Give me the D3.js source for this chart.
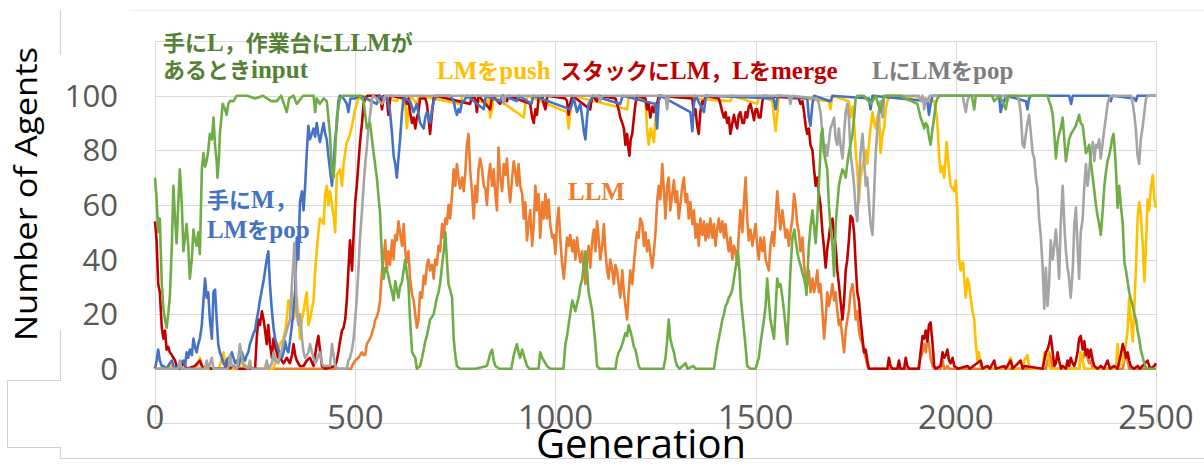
<!DOCTYPE html>
<html><head><meta charset="utf-8">
<script src="https://cdn.jsdelivr.net/npm/d3@7"></script>
<style>body{margin:0;background:#fff;} svg{display:block;}</style>
</head><body><svg id="c" width="1204" height="466"></svg>
<script>
const xTicks = [0, 500, 1000, 1500, 2000, 2500];
const yTicks = [0, 20, 40, 60, 80, 100];

// 手にL，作業台にLLMがあるときinput  (green)
const seriesInput = [[0,70],[4,62],[8,50],[12,55],[17,31],[21,22],[25,18],[29,15],[33,20],[37,26],[42,45],[46,67],[50,55],[54,46],[58,60],[62,73],[67,60],[71,43],[75,48],[79,53],[83,45],[87,33],[92,40],[96,51],[100,47],[104,45],[108,50],[112,42],[117,73],[121,79],[125,74],[129,76],[133,80],[137,86],[142,84],[146,92],[150,82],[154,76],[156,70],[160,78],[162,86],[166,92],[169,97],[175,95],[179,93],[183,97],[187,98],[196,98],[204,100],[212,100],[230,100],[250,99],[270,100],[290,98],[304,98],[315,100],[329,94],[335,99],[346,100],[354,97],[370,100],[396,100],[400,94],[404,99],[412,97],[421,99],[429,98],[437,86],[441,73],[446,70],[450,79],[454,92],[462,99],[470,100],[490,100],[512,100],[521,98],[529,88],[537,90],[546,79],[554,70],[562,57],[567,40],[571,33],[575,37],[579,36],[583,34],[587,31],[592,28],[596,25],[600,32],[604,29],[608,26],[612,30],[617,32],[621,36],[625,40],[629,35],[633,31],[637,18],[642,6],[646,5],[650,4],[654,0],[662,1],[667,4],[671,7],[675,10],[679,12],[683,15],[687,18],[692,19],[696,20],[700,23],[704,26],[708,28],[712,31],[717,38],[721,43],[725,50],[729,40],[733,31],[737,29],[742,26],[746,11],[750,5],[754,1],[762,0],[800,0],[829,1],[838,6],[842,7],[846,3],[850,1],[860,0],[890,0],[896,5],[900,7],[904,9],[908,6],[912,4],[917,7],[921,5],[925,3],[929,1],[935,0],[958,0],[962,6],[967,4],[971,3],[975,2],[979,1],[987,0],[1020,0],[1025,9],[1029,12],[1033,16],[1037,20],[1042,25],[1046,23],[1050,21],[1054,24],[1058,26],[1062,30],[1067,33],[1071,38],[1075,43],[1079,36],[1083,28],[1087,25],[1092,21],[1096,15],[1100,9],[1104,1],[1110,0],[1150,0],[1154,4],[1158,6],[1162,7],[1167,9],[1171,11],[1175,13],[1179,12],[1183,16],[1187,14],[1192,11],[1196,8],[1200,7],[1204,4],[1208,1],[1212,0],[1270,0],[1275,4],[1279,10],[1283,18],[1287,11],[1292,8],[1296,6],[1300,3],[1304,1],[1310,0],[1325,2],[1330,0],[1345,1],[1350,0],[1396,0],[1400,4],[1404,8],[1408,11],[1412,14],[1417,18],[1421,20],[1425,23],[1429,24],[1433,26],[1437,27],[1442,29],[1446,33],[1450,37],[1454,40],[1456,43],[1460,35],[1463,26],[1467,20],[1471,14],[1475,8],[1479,1],[1487,0],[1500,0],[1504,2],[1508,4],[1512,9],[1517,14],[1521,18],[1525,23],[1529,33],[1533,25],[1537,18],[1542,14],[1546,11],[1550,22],[1554,33],[1558,30],[1562,31],[1567,26],[1571,21],[1575,15],[1579,9],[1583,22],[1587,36],[1592,48],[1597,51],[1600,47],[1604,43],[1608,40],[1612,38],[1617,35],[1621,33],[1625,30],[1627,27],[1633,45],[1637,52],[1642,58],[1646,52],[1650,46],[1654,55],[1658,67],[1662,80],[1664,86],[1667,88],[1671,79],[1675,76],[1679,73],[1683,60],[1687,52],[1692,45],[1696,34],[1700,53],[1704,60],[1708,67],[1712,70],[1717,73],[1721,72],[1725,70],[1729,75],[1733,79],[1737,82],[1742,86],[1746,92],[1750,99],[1754,100],[1770,100],[1788,97],[1800,100],[1812,94],[1820,100],[1860,100],[1904,97],[1912,92],[1917,90],[1921,88],[1925,90],[1929,89],[1933,85],[1937,82],[1942,88],[1946,92],[1950,97],[1954,99],[1960,100],[2040,100],[2046,95],[2050,100],[2090,100],[2096,98],[2110,100],[2125,95],[2130,100],[2229,100],[2233,98],[2238,96],[2242,93],[2246,86],[2250,77],[2254,83],[2258,86],[2262,88],[2267,92],[2271,84],[2275,76],[2279,80],[2283,84],[2288,86],[2292,87],[2296,88],[2300,89],[2304,91],[2308,93],[2312,90],[2317,89],[2321,84],[2325,79],[2329,80],[2333,82],[2337,76],[2342,70],[2346,65],[2350,60],[2354,56],[2358,53],[2362,49],[2367,58],[2371,67],[2375,72],[2379,76],[2383,78],[2387,81],[2390,84],[2394,86],[2398,78],[2400,73],[2404,59],[2408,67],[2412,60],[2417,53],[2421,39],[2425,36],[2429,32],[2433,28],[2438,25],[2442,23],[2446,20],[2450,18],[2454,14],[2458,11],[2462,7],[2467,4],[2471,2],[2475,0],[2500,0]];

// 手にM，LMをpop (blue)
const seriesPopM = [[0,0],[4,3],[8,7],[12,3],[17,1],[21,1],[29,0],[37,2],[42,3],[46,1],[54,0],[62,2],[71,3],[75,1],[79,6],[83,4],[87,7],[92,5],[96,11],[100,8],[104,6],[108,9],[112,11],[117,16],[121,25],[125,33],[129,26],[133,28],[137,18],[142,11],[146,28],[150,29],[154,18],[158,9],[162,6],[167,4],[171,2],[175,1],[179,3],[183,4],[187,3],[192,6],[196,4],[200,2],[204,3],[208,1],[212,3],[217,6],[221,4],[225,3],[229,5],[233,6],[237,9],[242,11],[246,13],[250,14],[254,18],[258,21],[262,25],[267,29],[271,32],[275,36],[279,40],[283,43],[287,31],[292,21],[296,15],[300,11],[304,9],[308,7],[312,5],[317,4],[321,6],[325,10],[329,7],[333,6],[337,10],[342,16],[346,22],[350,28],[354,48],[358,40],[362,61],[367,65],[371,58],[375,67],[379,79],[383,89],[387,84],[392,86],[396,88],[400,85],[404,90],[408,86],[412,83],[417,87],[421,90],[425,86],[429,84],[433,78],[437,73],[442,67],[446,76],[450,84],[454,89],[458,98],[462,100],[471,99],[479,97],[483,94],[488,99],[492,99],[500,99],[512,100],[554,97],[560,100],[580,99],[587,94],[592,86],[596,78],[600,75],[604,70],[608,77],[612,84],[617,94],[621,99],[637,98],[646,94],[654,97],[662,90],[671,88],[675,92],[679,94],[683,92],[687,90],[692,95],[696,98],[704,100],[737,100],[742,99],[746,98],[750,95],[754,93],[758,95],[762,94],[767,98],[771,98],[780,100],[821,95],[826,100],[862,98],[870,100],[904,98],[910,100],[940,97],[945,100],[1037,95],[1046,99],[1054,94],[1062,97],[1067,92],[1071,87],[1075,84],[1079,92],[1083,97],[1087,98],[1095,100],[1162,97],[1168,100],[1250,97],[1254,88],[1258,98],[1262,100],[1337,94],[1342,87],[1346,97],[1350,100],[1371,94],[1376,100],[1545,99],[1550,95],[1555,100],[1629,99],[1633,92],[1637,89],[1642,97],[1646,100],[1687,98],[1692,100],[1783,99],[1787,95],[1792,100],[1929,98],[1933,93],[1937,97],[1942,100],[2108,100],[2112,94],[2117,97],[2121,98],[2125,100],[2175,98],[2179,95],[2183,99],[2188,100],[2283,100],[2288,97],[2292,100],[2383,100],[2387,98],[2391,100],[2446,99],[2450,98],[2454,100],[2500,100]];

// LMをpush (yellow)
const seriesPush = [[0,0],[20,0],[40,1],[60,0],[100,0],[108,2],[112,4],[117,1],[125,0],[160,0],[167,4],[171,6],[175,2],[180,0],[210,0],[217,4],[221,2],[229,1],[235,0],[295,0],[300,2],[304,5],[308,7],[312,9],[317,10],[321,11],[325,14],[329,18],[333,25],[337,22],[342,28],[346,18],[350,20],[354,26],[358,20],[362,11],[367,18],[371,21],[375,25],[379,28],[383,16],[387,18],[392,22],[396,25],[400,36],[404,43],[408,50],[412,55],[417,54],[421,53],[425,64],[429,67],[433,60],[437,65],[442,60],[446,56],[450,50],[454,71],[458,72],[462,73],[467,67],[471,75],[475,79],[479,83],[483,84],[487,86],[492,89],[496,92],[500,95],[504,97],[508,99],[512,99],[520,100],[554,97],[560,100],[604,98],[610,100],[625,97],[629,88],[633,94],[638,100],[654,97],[660,100],[762,97],[768,100],[829,97],[833,100],[837,92],[842,95],[846,100],[921,92],[925,97],[930,100],[1029,94],[1033,88],[1037,94],[1042,100],[1179,95],[1184,100],[1225,98],[1229,88],[1233,82],[1238,88],[1242,86],[1246,83],[1250,92],[1254,94],[1260,100],[1437,98],[1442,100],[1504,97],[1509,100],[1542,98],[1546,92],[1550,87],[1554,93],[1558,100],[1683,98],[1687,95],[1692,100],[1733,98],[1737,92],[1742,96],[1746,90],[1750,80],[1754,73],[1758,61],[1762,70],[1767,74],[1771,77],[1775,80],[1779,75],[1783,82],[1787,88],[1792,94],[1796,90],[1800,88],[1804,92],[1808,94],[1812,79],[1817,86],[1821,88],[1825,95],[1829,98],[1835,100],[1887,99],[1892,100],[1946,98],[1950,95],[1954,90],[1958,79],[1962,72],[1967,74],[1971,70],[1975,78],[1977,83],[1981,76],[1983,73],[1987,67],[1992,66],[1996,65],[2000,69],[2004,58],[2008,40],[2012,36],[2017,39],[2019,38],[2021,33],[2025,26],[2029,33],[2033,31],[2037,26],[2042,21],[2046,18],[2050,9],[2054,3],[2058,6],[2062,1],[2071,0],[2130,0],[2133,3],[2137,4],[2142,1],[2146,0],[2167,0],[2171,3],[2175,4],[2179,5],[2183,1],[2188,0],[2217,0],[2221,6],[2225,5],[2229,7],[2233,1],[2238,0],[2308,0],[2312,6],[2317,3],[2321,0],[2400,0],[2404,9],[2408,1],[2417,2],[2421,6],[2425,9],[2429,14],[2433,26],[2437,18],[2442,10],[2446,23],[2450,37],[2454,55],[2458,61],[2462,57],[2467,45],[2471,32],[2475,45],[2479,62],[2483,58],[2487,66],[2492,71],[2496,62],[2500,59]];

// スタックにLM，Lをmerge (red)
const seriesMerge = [[0,54],[4,47],[8,31],[12,28],[17,15],[21,11],[25,14],[29,7],[33,8],[37,6],[42,5],[46,4],[50,3],[54,1],[62,0],[70,2],[80,0],[100,1],[112,3],[120,0],[129,1],[140,0],[175,0],[179,3],[185,0],[196,1],[205,0],[250,0],[254,11],[258,18],[262,16],[267,21],[271,18],[275,14],[279,9],[283,16],[287,9],[292,4],[296,11],[300,8],[304,6],[308,4],[312,4],[321,2],[329,4],[337,2],[342,5],[346,9],[350,5],[354,3],[362,1],[371,1],[379,3],[387,4],[396,1],[400,5],[404,9],[408,12],[412,7],[417,1],[425,0],[450,1],[454,3],[458,6],[462,10],[467,14],[471,15],[475,18],[479,25],[483,36],[487,47],[492,36],[496,49],[500,61],[504,67],[508,75],[512,83],[517,90],[521,97],[525,99],[530,100],[562,100],[567,95],[572,100],[579,99],[583,93],[588,100],[625,99],[629,97],[633,99],[637,94],[642,90],[646,92],[650,88],[654,92],[658,94],[662,99],[675,99],[679,97],[683,92],[687,86],[692,94],[696,99],[700,100],[787,97],[792,100],[800,99],[804,94],[808,100],[837,95],[842,100],[862,97],[867,100],[879,98],[884,100],[937,97],[942,92],[946,90],[950,95],[954,93],[958,99],[967,100],[971,97],[975,95],[980,100],[1025,99],[1029,98],[1033,93],[1037,97],[1042,100],[1087,95],[1092,100],[1104,98],[1108,100],[1150,99],[1154,97],[1158,95],[1162,92],[1167,90],[1171,88],[1175,82],[1179,86],[1183,80],[1185,78],[1188,84],[1192,86],[1196,92],[1200,97],[1204,100],[1225,99],[1229,95],[1233,97],[1237,92],[1242,96],[1246,94],[1250,97],[1254,97],[1258,100],[1342,99],[1346,93],[1350,95],[1354,89],[1358,86],[1362,94],[1367,98],[1371,97],[1375,100],[1408,99],[1412,97],[1417,94],[1421,92],[1425,94],[1429,90],[1433,92],[1437,86],[1442,90],[1446,93],[1450,90],[1454,88],[1458,93],[1462,94],[1467,90],[1471,90],[1475,94],[1479,92],[1483,96],[1487,97],[1492,94],[1496,91],[1500,95],[1504,95],[1508,92],[1512,92],[1517,98],[1521,100],[1608,99],[1612,97],[1617,98],[1621,94],[1625,89],[1629,86],[1633,88],[1637,82],[1642,80],[1646,73],[1650,67],[1654,70],[1658,64],[1662,60],[1667,50],[1671,44],[1675,37],[1679,44],[1683,48],[1687,53],[1692,55],[1696,49],[1700,45],[1704,36],[1708,31],[1712,25],[1717,18],[1721,25],[1725,36],[1729,40],[1733,47],[1737,56],[1742,55],[1746,50],[1750,38],[1754,28],[1758,25],[1762,18],[1767,11],[1771,6],[1775,7],[1779,3],[1783,0],[1829,0],[1833,4],[1837,1],[1842,0],[1854,0],[1858,3],[1862,0],[1871,0],[1875,4],[1879,1],[1884,0],[1908,0],[1912,6],[1917,12],[1921,11],[1925,14],[1929,10],[1933,16],[1937,17],[1942,9],[1946,1],[1950,0],[1962,1],[1967,6],[1971,4],[1975,5],[1979,7],[1983,3],[1987,2],[1992,4],[1996,1],[2005,0],[2029,1],[2035,0],[2062,3],[2067,0],[2079,1],[2085,0],[2096,3],[2100,0],[2121,1],[2125,0],[2137,3],[2142,0],[2162,3],[2167,0],[2171,1],[2217,0],[2221,3],[2225,6],[2229,7],[2233,9],[2237,12],[2242,6],[2246,1],[2250,2],[2254,6],[2258,3],[2263,0],[2267,1],[2275,0],[2279,3],[2283,1],[2287,4],[2292,2],[2296,1],[2300,3],[2304,6],[2308,11],[2312,12],[2317,7],[2321,10],[2325,5],[2329,7],[2333,4],[2337,7],[2342,3],[2346,1],[2354,0],[2362,1],[2370,0],[2379,3],[2385,0],[2396,1],[2404,0],[2412,5],[2417,9],[2421,7],[2425,4],[2429,6],[2433,3],[2437,1],[2445,0],[2454,1],[2460,0],[2479,3],[2485,0],[2496,1],[2500,2]];

// LにLMをpop (gray)
const seriesPopL = [[0,0],[30,0],[58,0],[62,3],[66,0],[125,0],[129,3],[133,0],[142,4],[146,0],[183,0],[187,5],[192,1],[205,0],[212,9],[217,4],[221,1],[233,0],[237,3],[241,0],[275,0],[279,3],[283,0],[292,2],[296,6],[300,3],[308,2],[312,5],[317,7],[321,10],[325,12],[329,14],[333,16],[337,18],[342,31],[346,40],[348,46],[352,31],[354,21],[358,16],[362,20],[367,11],[371,6],[375,4],[379,5],[383,6],[387,9],[392,6],[396,4],[400,2],[404,3],[408,5],[412,6],[417,2],[421,1],[437,1],[442,9],[446,5],[450,1],[458,0],[479,0],[483,3],[487,4],[492,7],[496,11],[500,18],[504,26],[508,36],[512,48],[517,58],[521,67],[525,75],[529,81],[533,88],[537,93],[542,99],[545,100],[567,97],[571,98],[575,100],[867,100],[871,97],[875,100],[1108,100],[1112,98],[1116,100],[1275,100],[1279,95],[1283,100],[1583,100],[1587,97],[1591,100],[1654,99],[1658,97],[1662,94],[1667,86],[1671,79],[1675,82],[1679,78],[1683,83],[1687,88],[1692,90],[1696,92],[1700,84],[1704,82],[1708,88],[1712,82],[1717,77],[1721,86],[1725,94],[1729,97],[1733,92],[1737,79],[1742,73],[1746,67],[1750,58],[1754,54],[1758,67],[1762,79],[1767,86],[1771,77],[1775,67],[1779,70],[1783,61],[1787,53],[1792,49],[1796,64],[1800,79],[1804,87],[1808,94],[1812,98],[1817,92],[1821,99],[1825,100],[1908,100],[1912,98],[1917,100],[1921,95],[1925,99],[1929,98],[1935,100],[2017,100],[2021,97],[2025,94],[2029,98],[2034,100],[2125,100],[2129,98],[2133,100],[2154,100],[2158,98],[2162,94],[2167,82],[2171,81],[2175,86],[2179,90],[2183,93],[2187,87],[2192,79],[2196,77],[2200,70],[2204,66],[2208,55],[2212,49],[2217,37],[2221,22],[2225,37],[2229,23],[2233,31],[2237,47],[2242,40],[2246,45],[2250,51],[2254,43],[2258,33],[2262,53],[2267,67],[2271,53],[2275,43],[2279,37],[2283,33],[2287,26],[2292,36],[2296,53],[2300,59],[2304,45],[2308,33],[2312,50],[2317,55],[2321,67],[2325,75],[2329,67],[2333,72],[2337,79],[2342,83],[2346,76],[2350,82],[2354,81],[2358,84],[2362,77],[2367,83],[2371,88],[2375,92],[2379,97],[2383,99],[2388,100],[2438,100],[2442,97],[2446,93],[2450,87],[2454,78],[2458,75],[2462,84],[2467,89],[2471,94],[2475,99],[2480,100],[2500,100]];

// LLM (orange)
const seriesLLM = [[0,0],[490,0],[492,1],[500,3],[508,4],[517,6],[521,5],[525,5],[529,9],[533,10],[537,11],[542,13],[546,15],[550,18],[554,19],[558,21],[562,25],[567,36],[571,40],[575,47],[579,36],[583,43],[587,38],[592,47],[596,40],[600,49],[604,47],[608,54],[612,50],[617,45],[621,53],[625,43],[629,39],[633,43],[637,33],[642,27],[646,25],[650,20],[654,15],[658,18],[662,28],[667,26],[671,34],[675,31],[679,38],[683,40],[687,36],[692,38],[696,33],[700,40],[704,38],[708,45],[712,43],[717,53],[721,48],[725,55],[729,53],[733,60],[737,55],[742,64],[746,73],[750,67],[754,75],[758,70],[762,66],[767,70],[771,65],[775,72],[779,82],[783,86],[787,73],[792,64],[796,55],[800,67],[804,61],[808,73],[812,77],[817,73],[821,67],[825,66],[829,60],[833,70],[837,75],[842,67],[846,73],[850,64],[854,58],[858,81],[862,70],[867,65],[871,75],[875,71],[879,77],[883,67],[887,61],[892,70],[896,76],[900,72],[904,67],[908,75],[912,67],[917,64],[921,55],[925,61],[929,47],[933,53],[937,58],[942,45],[946,53],[950,67],[954,58],[958,64],[962,48],[967,61],[971,55],[975,64],[979,55],[983,62],[987,53],[992,48],[996,49],[1000,42],[1004,53],[1008,59],[1012,48],[1017,38],[1021,33],[1025,40],[1029,48],[1033,45],[1037,49],[1042,43],[1046,47],[1050,40],[1054,48],[1058,43],[1062,39],[1067,43],[1071,36],[1075,31],[1079,40],[1083,45],[1087,37],[1092,47],[1096,51],[1100,43],[1104,54],[1108,48],[1112,40],[1117,45],[1121,53],[1125,43],[1129,36],[1133,33],[1137,40],[1142,36],[1146,31],[1150,38],[1154,36],[1158,31],[1162,26],[1167,36],[1171,28],[1175,23],[1179,18],[1183,28],[1187,36],[1192,31],[1196,38],[1200,45],[1204,50],[1208,48],[1212,55],[1217,53],[1221,45],[1225,50],[1229,43],[1233,47],[1237,42],[1242,37],[1246,43],[1250,50],[1254,61],[1258,67],[1262,62],[1267,75],[1271,65],[1275,55],[1279,67],[1283,70],[1287,58],[1292,64],[1296,69],[1300,61],[1304,65],[1308,55],[1312,60],[1317,67],[1321,70],[1325,61],[1329,64],[1333,55],[1337,61],[1342,53],[1346,58],[1350,48],[1354,53],[1358,45],[1362,55],[1367,49],[1371,54],[1375,47],[1379,53],[1383,48],[1387,55],[1392,48],[1396,53],[1400,45],[1404,51],[1408,55],[1412,50],[1417,54],[1421,48],[1425,53],[1429,47],[1433,43],[1437,48],[1442,40],[1446,45],[1450,43],[1454,38],[1458,49],[1462,58],[1467,50],[1471,61],[1475,70],[1479,55],[1483,47],[1487,51],[1492,45],[1496,49],[1500,53],[1504,45],[1508,40],[1512,48],[1517,43],[1521,48],[1525,40],[1529,38],[1533,36],[1537,45],[1542,50],[1546,45],[1550,55],[1554,65],[1558,58],[1562,51],[1567,58],[1571,53],[1575,48],[1579,51],[1583,45],[1587,50],[1592,55],[1596,64],[1600,60],[1604,53],[1608,50],[1612,43],[1617,48],[1621,38],[1625,33],[1629,31],[1633,36],[1637,28],[1642,33],[1646,28],[1650,31],[1654,36],[1658,28],[1662,31],[1667,21],[1671,11],[1675,18],[1679,28],[1683,23],[1687,26],[1692,31],[1696,25],[1700,28],[1704,21],[1708,16],[1712,18],[1717,11],[1721,6],[1725,14],[1729,18],[1733,21],[1737,28],[1742,31],[1746,26],[1750,18],[1754,21],[1758,14],[1762,11],[1767,9],[1771,6],[1775,4],[1779,1],[1783,0],[1905,0],[1912,4],[1917,6],[1921,9],[1925,6],[1929,11],[1933,9],[1937,4],[1942,1],[1946,0],[1962,0],[1967,3],[1971,0],[1975,0],[1979,1],[1983,0],[2225,0],[2229,3],[2233,6],[2237,4],[2242,0],[2308,0],[2312,4],[2317,3],[2321,6],[2325,5],[2329,4],[2333,2],[2337,3],[2342,0],[2417,0],[2421,3],[2425,5],[2429,3],[2433,0],[2500,0]];

const svg = d3.select('#c');
const x = d3.scaleLinear().domain([0, 2500]).range([155, 1156]);
const y = d3.scaleLinear().domain([-20, 120]).range([423.3, 41.1]);

// frame lines
const frame = svg.append('g').attr('fill', 'none').attr('stroke', '#cfcfcf').attr('stroke-width', 1);
frame.append('path').attr('d', 'M130,10.5H1204').attr('stroke', '#eeeeee');
frame.append('path').attr('d', 'M60.5,10V55');
frame.append('path').attr('d', 'M60.5,330V380.5H7.5V447.5H60.5V458.5H1204');

// gridlines
const grid = svg.append('g').attr('stroke', '#d9d9d9').attr('stroke-width', 1);
grid.selectAll('line.h').data(yTicks.concat(y.domain())).join('line')
  .attr('x1', x(0)).attr('x2', x(2500))
  .attr('y1', d => Math.round(y(d)) + 0.5).attr('y2', d => Math.round(y(d)) + 0.5);
grid.selectAll('line.v').data(xTicks).join('line')
  .attr('y1', y(120)).attr('y2', y(-20))
  .attr('x1', d => Math.round(x(d)) + 0.5).attr('x2', d => Math.round(x(d)) + 0.5);

// series
const line = d3.line().x(d => x(d[0])).y(d => y(d[1]));
const series = [
  {data: seriesLLM, color: '#ED7D31'},
  {data: seriesPush, color: '#FFC000'},
  {data: seriesMerge, color: '#C00000'},
  {data: seriesPopM, color: '#4472C4'},
  {data: seriesPopL, color: '#A5A5A5'},
  {data: seriesInput, color: '#70AD47'}
];
svg.append('g').selectAll('path').data(series).join('path')
  .attr('d', d => line(d.data)).attr('fill', 'none')
  .attr('stroke', d => d.color).attr('stroke-width', 2.6)
  .attr('stroke-linejoin', 'round');

// tick labels
const tickFont = "'Open Sans','Noto Sans',sans-serif";
svg.append('g').selectAll('text').data(yTicks).join('text')
  .attr('x', 118).attr('y', d => y(d) + 11)
  .attr('text-anchor', 'end').attr('font-family', tickFont)
  .attr('font-size', 31).attr('fill', '#595959').text(d => d);
svg.append('g').selectAll('text').data(xTicks).join('text')
  .attr('x', d => x(d)).attr('y', 429)
  .attr('text-anchor', 'middle').attr('font-family', tickFont)
  .attr('font-size', 33).attr('fill', '#595959').text(d => d);

// axis titles
svg.append('text').attr('transform', 'translate(37,194) rotate(-90)')
  .attr('text-anchor', 'middle').attr('font-family', tickFont)
  .attr('font-size', 31).attr('textLength', 294).attr('lengthAdjust', 'spacingAndGlyphs')
  .attr('fill', '#000').text('Number of Agents');
svg.append('text').attr('x', 641).attr('y', 458)
  .attr('text-anchor', 'middle').attr('font-family', tickFont)
  .attr('font-size', 40).attr('fill', '#000').text('Generation');

// annotations (mixed Japanese gothic + serif bold latin)
const CJK = "'Noto Sans CJK JP',sans-serif";
const LAT = "'Liberation Serif','Times New Roman',serif";
function label(px, py, color, parts) {
  const t = svg.append('text').attr('x', px).attr('y', py).attr('fill', color).attr('font-weight', 'bold');
  parts.forEach(([s, lat]) => {
    t.append('tspan').attr('font-family', lat ? LAT : CJK)
      .attr('font-size', lat ? 25 : 22).text(s);
  });
}
label(163, 51, '#548235', [['手に',0],['L',1],['，作業台に',0],['LLM',1],['が',0]]);
label(163, 78, '#548235', [['あるとき',0],['input',1]]);
label(437, 79, '#FFC000', [['LM',1],['を',0],['push',1]]);
label(560, 79, '#C00000', [['スタックに',0],['LM',1],['，',0],['L',1],['を',0],['merge',1]]);
label(872, 79, '#7F7F7F', [['L',1],['に',0],['LM',1],['を',0],['pop',1]]);
label(207, 208, '#4472C4', [['手に',0],['M',1],['，',0]]);
label(207, 238, '#4472C4', [['LM',1],['を',0],['pop',1]]);
label(568, 200, '#ED7D31', [['LLM',1]]);
</script></body></html>
